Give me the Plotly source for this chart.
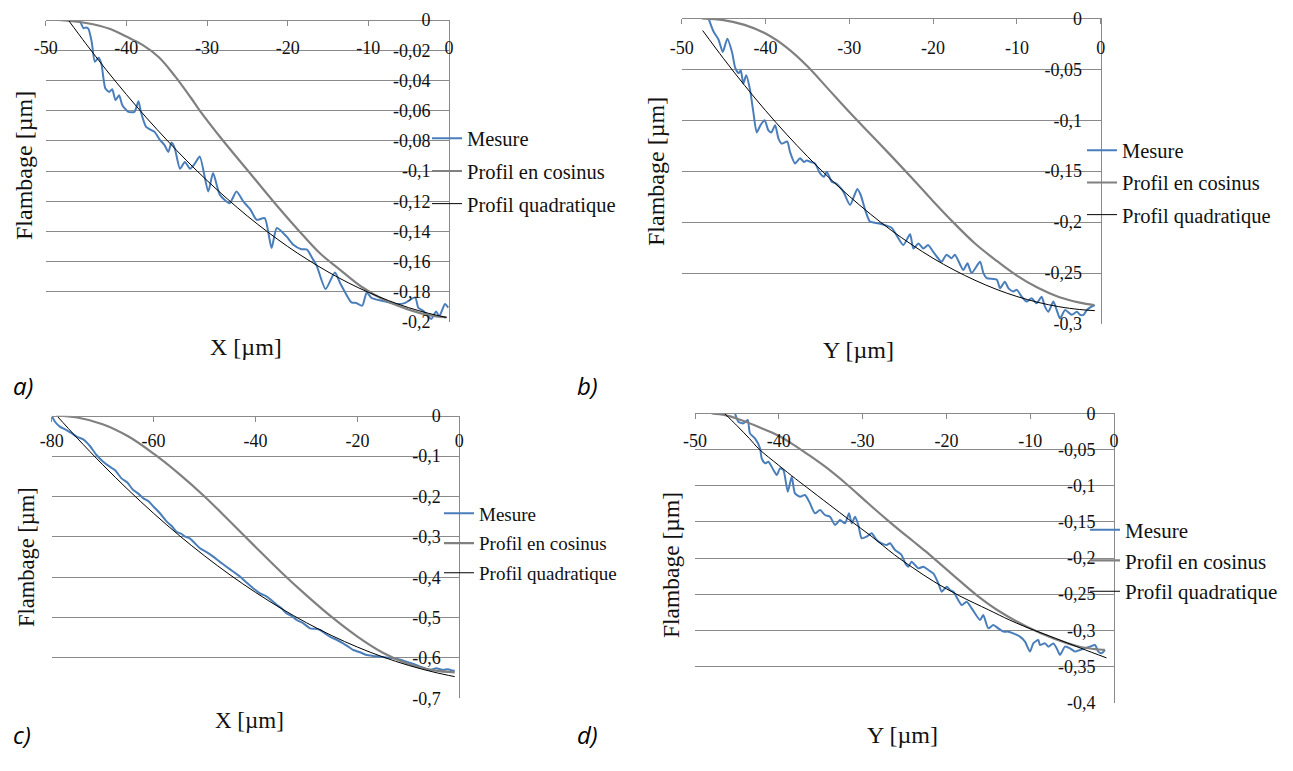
import plotly.graph_objects as go

# The figure sits at the page's default 8px body margin; it is kept a little
# smaller than the window so the page never overflows.
OFF = 8
W, H = 1275, 745


def fx(px):
    return (px - OFF) / W


def fy(py):
    return 1 - (py - OFF) / H


# ---------------- data ----------------
# Panel a
a_mes_x = [-45.8, -45.3, -45.0, -44.7, -44.3, -43.9, -43.45, -43.1, -42.6, -42.1, -41.75, -41.35, -40.9, -40.5,
           -39.75, -39.0, -38.5, -38.2, -37.55, -36.5, -35.9, -35.25, -34.8, -34.4, -34.0, -33.35, -32.75, -32.1,
           -31.5, -30.9, -29.85, -29.25, -28.4, -27.2, -26.35, -25.5, -24.6, -23.85, -22.85, -22.0, -21.35, -20.15,
           -19.3, -18.3, -17.6, -17.0, -16.4, -15.3, -14.15, -13.5, -12.1, -11.5, -10.75, -10.2, -9.6, -8.35, -6.5,
           -5.5, -4.2, -3.8, -3.2, -2.2, -1.6, -1.2, -0.5, -0.1]
a_mes_y = [0, -0.0055, -0.005, -0.0058, -0.0144, -0.0277, -0.025, -0.029, -0.0454, -0.0476, -0.0458, -0.0531,
           -0.0498, -0.0564, -0.0608, -0.0608, -0.0538, -0.0608, -0.0708, -0.0741, -0.079, -0.083, -0.0874, -0.0812,
           -0.085, -0.0985, -0.094, -0.0985, -0.095, -0.0904, -0.1136, -0.1014, -0.1158, -0.1213, -0.1136, -0.1202,
           -0.1257, -0.1323, -0.1312, -0.151, -0.1378, -0.1433, -0.1488, -0.1518, -0.152, -0.1573, -0.1628, -0.1782,
           -0.1672, -0.1742, -0.187, -0.1874, -0.1892, -0.1804, -0.1841, -0.1859, -0.1881, -0.1875, -0.1837,
           -0.1907, -0.1925, -0.198, -0.193, -0.1962, -0.1881, -0.1905]
a_cos_x = [-48.4, -45, -42, -40, -38, -36, -34, -32, -30.9, -28, -24.9, -21.8, -18.7, -16, -13.5, -10.9, -8, -5,
           -2.5, -0.3]
a_cos_y = [0, -0.002, -0.006, -0.011, -0.0165, -0.0245, -0.037, -0.0515, -0.06, -0.08, -0.1, -0.12, -0.139, -0.1545,
           -0.1655, -0.1765, -0.1855, -0.1918, -0.1955, -0.197]
a_quad_x = [-47.2, -45, -42.5, -40, -37.5, -35, -32.5, -30, -27.5, -25, -22.5, -20, -17.5, -15, -12.5, -10, -7.5, -5,
            -2.5, -0.3]
a_quad_y = [0, -0.0158, -0.033, -0.0493, -0.0648, -0.0794, -0.0933, -0.1063, -0.1184, -0.1298, -0.1403, -0.15,
            -0.1588, -0.1668, -0.174, -0.1803, -0.1858, -0.1905, -0.1943, -0.197]

# Panel b
b_mes_x = [-46.8, -46.2, -45.6, -45.1, -44.55, -44.0, -43.6, -43.2, -42.95, -42.65, -42.3, -41.85, -41.45, -41.05,
           -40.6, -40.1, -39.65, -39.3, -38.85, -38.45, -38.05, -37.4, -37.08, -36.48, -35.88, -35.4, -35.09, -34.6,
           -34.09, -33.49, -33.01, -32.7, -32.1, -31.6, -31.18, -30.71, -29.91, -29.04, -28.64, -28.04, -27.53,
           -26.54, -25.54, -24.95, -24.35, -23.55, -22.75, -22.35, -21.75, -21.15, -20.6, -20.0, -19.4, -19.0,
           -18.4, -17.8, -17.4, -16.4, -15.9, -15.4, -14.4, -14.0, -13.6, -12.4, -12.0, -11.45, -11.0, -10.45,
           -10.0, -9.45, -8.85, -8.25, -7.65, -7.05, -6.65, -6.25, -5.65, -5.25, -4.85, -4.25, -3.45, -2.85, -2.45,
           -2.05, -1.65, -1.1, -0.7]
b_mes_y = [0, -0.013, -0.021, -0.033, -0.020, -0.033, -0.049, -0.054, -0.051, -0.064, -0.056, -0.070, -0.092, -0.112,
           -0.105, -0.100, -0.110, -0.112, -0.105, -0.118, -0.123, -0.121, -0.131, -0.1424, -0.1374, -0.141, -0.1395,
           -0.141, -0.1424, -0.1522, -0.1554, -0.1505, -0.1603, -0.162, -0.1652, -0.1701, -0.1832, -0.1675, -0.1734,
           -0.1897, -0.1995, -0.2012, -0.2035, -0.2055, -0.213, -0.2225, -0.212, -0.226, -0.221, -0.226, -0.2225,
           -0.229, -0.2355, -0.239, -0.232, -0.2355, -0.232, -0.247, -0.2405, -0.25, -0.239, -0.25, -0.255, -0.2565,
           -0.265, -0.2585, -0.265, -0.268, -0.2665, -0.273, -0.278, -0.2748, -0.2797, -0.2732, -0.283, -0.288,
           -0.278, -0.2863, -0.2945, -0.2863, -0.291, -0.288, -0.291, -0.291, -0.2863, -0.283, -0.2814]
b_cos_x = [-47.6, -45, -42.5, -40, -37.5, -35, -32.5, -30, -27.5, -25, -22.5, -20, -17.5, -15, -12.5, -10, -7.5, -5,
           -2.5, -0.8]
b_cos_y = [0, -0.0018, -0.0065, -0.015, -0.0285, -0.047, -0.0695, -0.092, -0.1135, -0.135, -0.157, -0.1795, -0.201,
           -0.221, -0.2375, -0.2525, -0.2645, -0.2735, -0.279, -0.2814]
b_quad_x = [-47.5, -45, -42.5, -40, -37.5, -35, -32.5, -30, -27.5, -25, -22.5, -20, -17.5, -15, -12.5, -10, -7.5, -5,
            -2.5, -0.7]
b_quad_y = [-0.012, -0.0396, -0.0658, -0.0905, -0.1137, -0.1355, -0.1558, -0.1746, -0.192, -0.208, -0.2224, -0.2355,
            -0.247, -0.2571, -0.2658, -0.273, -0.2787, -0.283, -0.2858, -0.2869]

# Panel c
c_mes_x = [-80, -79.35, -78.4, -77.1, -76, -75.1, -73.8, -72.5, -71.2, -69.9, -68.6, -67.6, -66.3, -65.2, -64, -63,
           -62, -61, -60, -58.8, -57.4, -56.4, -55.5, -54.5, -53.8, -52.9, -51.9, -50.9, -49.6, -48.3, -47, -45.7,
           -44.4, -43, -41.7, -40.4, -39.1, -37.8, -36.8, -35.8, -34.9, -33.9, -32.9, -31.9, -30.6, -29.3, -28.3,
           -27.3, -26.3, -25.4, -24.1, -22.8, -21.8, -20.8, -19.5, -18.2, -16.9, -15.6, -14.3, -13, -11.7, -10.4,
           -9, -7.7, -6.7, -5.8, -4.5, -3.2, -2.2, -1.5, -0.9]
c_mes_y = [0, -0.015, -0.027, -0.0355, -0.044, -0.052, -0.0586, -0.075, -0.0974, -0.1139, -0.1263, -0.1346, -0.1552,
           -0.165, -0.1841, -0.193, -0.2047, -0.212, -0.2254, -0.241, -0.2625, -0.274, -0.2873, -0.293, -0.2997,
           -0.3038, -0.316, -0.3285, -0.338, -0.3492, -0.362, -0.374, -0.386, -0.3987, -0.414, -0.428, -0.44, -0.4482,
           -0.458, -0.4689, -0.477, -0.4895, -0.496, -0.506, -0.5143, -0.5267, -0.528, -0.5308, -0.54, -0.5473,
           -0.555, -0.5638, -0.572, -0.5803, -0.586, -0.5927, -0.595, -0.5968, -0.599, -0.601, -0.604, -0.6092,
           -0.615, -0.6216, -0.626, -0.6299, -0.6257, -0.6299, -0.628, -0.631, -0.6315]
c_cos_x = [-79, -75, -70, -65, -60, -55, -50, -45, -40, -35, -30, -25, -20, -15, -10, -5, -0.9]
c_cos_y = [0, -0.0045, -0.021, -0.051, -0.094, -0.144, -0.2, -0.262, -0.325, -0.387, -0.445, -0.499, -0.547, -0.587,
           -0.615, -0.631, -0.636]
c_quad_x = [-79, -75, -70, -65, -60, -55, -50, -45, -40, -35, -30, -25, -20, -15, -10, -5, -0.9]
c_quad_y = [0, -0.0554, -0.1213, -0.1834, -0.2418, -0.2964, -0.3472, -0.3943, -0.4376, -0.4771, -0.5128, -0.5449,
            -0.5731, -0.5976, -0.6183, -0.6352, -0.6463]

# Panel d
d_mes_x = [-45.23, -44.83, -44.23, -43.71, -43.44, -42.84, -42.24, -42.04, -41.64, -41.24, -40.64, -40.24, -39.85,
           -39.45, -38.93, -38.46, -38.07, -37.47, -36.87, -36.28, -35.68, -35.08, -34.49, -33.89, -33.29, -32.7,
           -32.1, -31.62, -31.3, -30.9, -30.51, -30.11, -29.51, -28.92, -28.32, -27.72, -27.13, -26.73, -26.13,
           -25.4, -24.9, -24.54, -24.15, -23.35, -22.75, -22.16, -21.56, -20.96, -20.56, -19.96, -19.57, -19.17,
           -18.17, -17.58, -16.98, -15.98, -15.6, -15.0, -14.4, -13.81, -13.21, -12.61, -12.02, -11.22, -10.62,
           -10.03, -9.63, -9.03, -8.84, -8.24, -7.84, -7.24, -6.84, -6.44, -5.85, -5.25, -4.65, -4.06, -3.46, -2.86,
           -2.27, -1.87, -1.47, -1.07]
d_mes_y = [0, -0.0116, -0.0139, -0.0093, -0.0277, -0.0346, -0.0484, -0.0622, -0.0692, -0.0669, -0.0784, -0.0853,
           -0.0761, -0.0784, -0.1083, -0.0876, -0.1106, -0.1152, -0.1129, -0.1244, -0.1383, -0.1337, -0.1406,
           -0.1429, -0.1544, -0.1475, -0.1521, -0.1383, -0.1521, -0.1429, -0.1544, -0.1728, -0.1705, -0.1659,
           -0.1751, -0.1797, -0.182, -0.1797, -0.1889, -0.195, -0.2074, -0.212, -0.2051, -0.2143, -0.212, -0.2166,
           -0.2212, -0.2351, -0.2466, -0.2397, -0.2443, -0.2466, -0.265, -0.2604, -0.2696, -0.2857, -0.2788,
           -0.2972, -0.2926, -0.2972, -0.3018, -0.3018, -0.3041, -0.3087, -0.3156, -0.3294, -0.318, -0.3133,
           -0.3202, -0.318, -0.3225, -0.318, -0.3248, -0.334, -0.3225, -0.3248, -0.3294, -0.3271, -0.3248, -0.3225,
           -0.3202, -0.3294, -0.3317, -0.3271]
d_cos_x = [-48, -46.4, -44.6, -42.4, -40, -38.5, -36.5, -34.5, -32, -30, -28.5, -27, -25.5, -24, -22.5, -21.5, -19.2,
           -16.4, -13.6, -10.4, -7.2, -4.1, -1.7, -1.1]
d_cos_y = [0, -0.0025, -0.009, -0.019, -0.031, -0.0415, -0.057, -0.0735, -0.097, -0.1175, -0.133, -0.148, -0.1625,
           -0.1765, -0.1905, -0.2005, -0.2236, -0.2512, -0.2743, -0.295, -0.3111, -0.3227, -0.3265, -0.327]
d_quad_x = [-46.5, -45, -43.5, -42.4, -40, -38, -36.7, -34, -31.5, -29, -26.2, -24, -21.5, -18.4, -15, -12.5, -10.8,
            -9.6, -7, -4, -0.9]
d_quad_y = [0, -0.017, -0.035, -0.049, -0.072, -0.0905, -0.102, -0.126, -0.148, -0.1695, -0.1955, -0.2135, -0.2325,
            -0.2525, -0.2715, -0.2855, -0.294, -0.2995, -0.311, -0.3245, -0.338]

series_names = ["Mesure", "Profil en cosinus", "Profil quadratique"]

x_ticks_50 = [-50, -40, -30, -20, -10, 0]
x_text_50 = ["-50", "-40", "-30", "-20", "-10", "0"]
x_ticks_80 = [-80, -60, -40, -20, 0]
x_text_80 = ["-80", "-60", "-40", "-20", "0"]
a_y_ticks = [0, -0.02, -0.04, -0.06, -0.08, -0.1, -0.12, -0.14, -0.16, -0.18, -0.2]
a_y_text = ["0", "-0,02", "-0,04", "-0,06", "-0,08", "-0,1", "-0,12", "-0,14", "-0,16", "-0,18", "-0,2"]
b_y_ticks = [0, -0.05, -0.1, -0.15, -0.2, -0.25, -0.3]
b_y_text = ["0", "-0,05", "-0,1", "-0,15", "-0,2", "-0,25", "-0,3"]
c_y_ticks = [0, -0.1, -0.2, -0.3, -0.4, -0.5, -0.6, -0.7]
c_y_text = ["0", "-0,1", "-0,2", "-0,3", "-0,4", "-0,5", "-0,6", "-0,7"]
d_y_ticks = [0, -0.05, -0.1, -0.15, -0.2, -0.25, -0.3, -0.35, -0.4]
d_y_text = ["0", "-0,05", "-0,1", "-0,15", "-0,2", "-0,25", "-0,3", "-0,35", "-0,4"]

# ---------------- styling / layout ----------------
BLUE = "#4a7ebb"
GRAY = "#808080"
BLACK = "#000000"
GRID = "#8a8a8a"
SERIF = "Liberation Serif, Times New Roman, serif"
TXT = "#111111"
LEG_TEXT_OFF = 40    # legend text start relative to legend left edge (px)
LEG_TOP_OFF = 22.5   # first legend entry centre relative to legend top (px)

# boxes in window pixels: (left, right, top, bottom)
panels = [
    dict(key="a", box=(45.7, 449.0, 20.0, 322.0), xr=[-50, 0], yr=[-0.2, 0],
         xt=(x_ticks_50, x_text_50), yt=(a_y_ticks, a_y_text),
         data=((a_mes_x, a_mes_y), (a_cos_x, a_cos_y), (a_quad_x, a_quad_y)),
         ytitle=(24, 166, 24), xtitle=("X [µm]", 246, 347, 24), letter=("a)", 23, 385),
         leg=(467, 141, 20.5, 3), xstand=6),
    dict(key="b", box=(681.7, 1100.7, 18.3, 324.0), xr=[-50, 0], yr=[-0.3, 0],
         xt=(x_ticks_50, x_text_50), yt=(b_y_ticks, b_y_text),
         data=((b_mes_x, b_mes_y), (b_cos_x, b_cos_y), (b_quad_x, b_quad_y)),
         ytitle=(656, 171, 24), xtitle=("Y [µm]", 858, 350, 24), letter=("b)", 587, 385),
         leg=(1122, 153, 20.5, 2.5), xstand=8),
    dict(key="c", box=(51.7, 459.3, 415.7, 698.3), xr=[-80, 0], yr=[-0.7, 0],
         xt=(x_ticks_80, x_text_80), yt=(c_y_ticks, c_y_text),
         data=((c_mes_x, c_mes_y), (c_cos_x, c_cos_y), (c_quad_x, c_quad_y)),
         ytitle=(26, 557, 22.5), xtitle=("X [µm]", 250, 720, 23), letter=("c)", 22, 734),
         leg=(479, 517, 19, 2), xstand=4),
    dict(key="d", box=(695.0, 1114.0, 413.3, 702.7), xr=[-50, 0], yr=[-0.4, 0],
         xt=(x_ticks_50, x_text_50), yt=(d_y_ticks, d_y_text),
         data=((d_mes_x, d_mes_y), (d_cos_x, d_cos_y), (d_quad_x, d_quad_y)),
         ytitle=(671, 565, 23.5), xtitle=("Y [µm]", 903, 735, 24), letter=("d)", 587, 734),
         leg=(1125, 532, 21, 0.5), xstand=6),
]

styles = [dict(color=BLUE, width=2, shape="spline", smoothing=0.6),
          dict(color=GRAY, width=2.2, shape="spline", smoothing=1.0),
          dict(color=BLACK, width=1, shape="spline", smoothing=1.0)]

fig = go.Figure()
layout = dict(width=W, height=H, autosize=False,
              margin=dict(l=0, r=0, t=0, b=0, pad=0, autoexpand=False),
              paper_bgcolor="white", plot_bgcolor="white", showlegend=True,
              font=dict(family=SERIF, color=TXT), annotations=[])

for i, p in enumerate(panels):
    n = "" if i == 0 else str(i + 1)
    xa, ya = "x" + n, "y" + n
    lg = "legend" + n
    l, r, t, b = p["box"]
    # x axis drawn along the top edge (y = 0) with labels below it
    layout["xaxis" + n] = dict(
        domain=[fx(l), fx(r)], range=p["xr"], anchor="free", position=fy(t), side="bottom",
        showline=True, linecolor=GRID, linewidth=1,
        ticks="outside", ticklen=5, tickcolor=GRID, tickwidth=1,
        tickmode="array", tickvals=p["xt"][0], ticktext=p["xt"][1],
        ticklabelstandoff=p["xstand"], showgrid=False, zeroline=False, fixedrange=True,
        tickfont=dict(family=SERIF, size=18, color=TXT))
    # y axis drawn along the right edge (x = 0) with labels to its left
    layout["yaxis" + n] = dict(
        domain=[fy(b), fy(t)], range=p["yr"], anchor="free", position=fx(r), side="left",
        showline=True, linecolor=GRID, linewidth=1,
        ticks="", tickmode="array", tickvals=p["yt"][0], ticktext=p["yt"][1],
        ticklabelstandoff=15, showgrid=True, gridcolor=GRID, gridwidth=1, zeroline=False, fixedrange=True,
        tickfont=dict(family=SERIF, size=18, color=TXT))
    tx, tcy, lfs, lgap = p["leg"]
    layout[lg] = dict(x=fx(tx - LEG_TEXT_OFF), y=fy(tcy - LEG_TOP_OFF), xanchor="left", yanchor="top",
                      bgcolor="rgba(0,0,0,0)", borderwidth=0, traceorder="grouped",
                      tracegroupgap=lgap, font=dict(family=SERIF, size=lfs, color=TXT))
    for k, ((xs, ys), st, nm) in enumerate(zip(p["data"], styles, series_names)):
        fig.add_trace(go.Scatter(x=xs, y=ys, mode="lines", name=nm, line=st,
                                 xaxis=xa, yaxis=ya, legend=lg,
                                 legendgroup=p["key"] + str(k), hoverinfo="skip"))
    yx, yy, yfs = p["ytitle"]
    layout["annotations"].append(dict(text="Flambage [µm]", x=fx(yx), y=fy(yy), xref="paper", yref="paper",
                                      xanchor="center", yanchor="middle", textangle=-90, showarrow=False,
                                      font=dict(family=SERIF, size=yfs, color=TXT)))
    xt_text, xx, xy, xfs = p["xtitle"]
    layout["annotations"].append(dict(text=xt_text, x=fx(xx), y=fy(xy), xref="paper", yref="paper",
                                      xanchor="center", yanchor="middle", showarrow=False,
                                      font=dict(family=SERIF, size=xfs, color=TXT)))
    let, ltx, lty = p["letter"]
    layout["annotations"].append(dict(text="<i>" + let + "</i>", x=fx(ltx), y=fy(lty), xref="paper",
                                      yref="paper", xanchor="center", yanchor="middle", showarrow=False,
                                      font=dict(family="Open Sans", size=24, color="#000000")))

fig.update_layout(**layout)
fig.write_html("out.html", config={"displayModeBar": False})
